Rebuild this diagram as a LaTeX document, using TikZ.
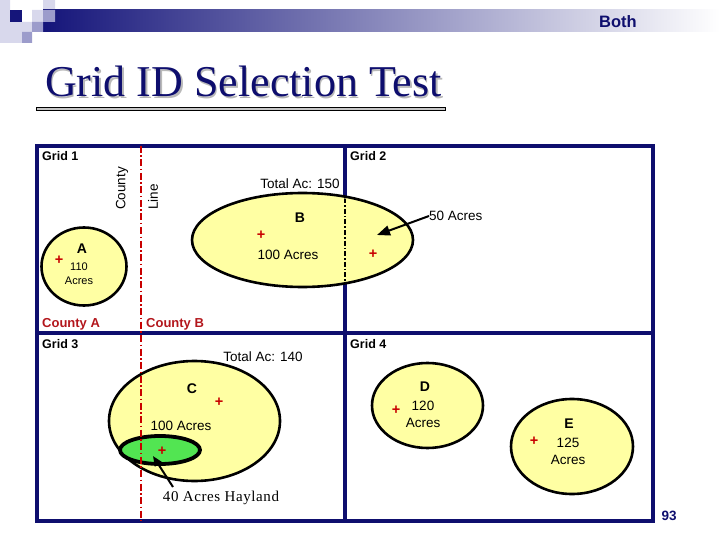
\documentclass[tikz,border=0pt]{standalone}
\usepackage{fontspec}
\setmainfont{Liberation Serif}
\setsansfont{Liberation Sans}
\usetikzlibrary{arrows.meta,shapes.geometric,positioning}
\definecolor{navy}{HTML}{0E0E6E}
\definecolor{cred}{HTML}{B3161C}
\definecolor{lred}{HTML}{C80000}
\definecolor{pyel}{HTML}{FFFFA3}
\definecolor{hgreen}{HTML}{52E552}
\definecolor{sqa}{HTML}{D8D8EC}
\definecolor{sqb}{HTML}{9C9CCB}
\definecolor{sqc}{HTML}{15157A}
\newcommand{\fsz}[1]{\fontsize{#1}{#1}\selectfont}
\tikzset{field/.style={ellipse,draw=black,fill=pyel,line width=2.6pt,inner sep=0pt},gridlbl/.style={anchor=west,inner sep=0pt,font=\sffamily\bfseries\fsz{12.5}},cntylbl/.style={anchor=west,inner sep=0pt,text=cred,font=\sffamily\bfseries\fsz{13}},lbl/.style={font=\sffamily\fsz{13.5},inner sep=0pt},small/.style={font=\sffamily\fsz{11},inner sep=0pt},ltr/.style={font=\sffamily\bfseries\fsz{14},inner sep=0pt},plusmark/.style={text=lred,font=\sffamily\bfseries\fsz{14.5},inner sep=0pt},arr/.style={-{Triangle[length=13pt,width=10pt]},line width=2pt}}

\begin{document}
\begin{tikzpicture}[x=1pt,y=-1pt]
\useasboundingbox (0,0) rectangle (720,540);
% header
\fill[sqa] (0,0) rectangle (10,43) (10,22) rectangle (22,43) (22,22) rectangle (32,32) (32,10) rectangle (43,22) (43,0) rectangle (55,10);
\shade[left color=sqc,right color=white] (43,10) rectangle (720,32);
\fill[sqc] (10,10) rectangle (22,22);
\fill[sqb] (22,32) rectangle (32,43) (32,22) rectangle (43,32) (43,10) rectangle (55,22);
\node[text=navy,font=\sffamily\bfseries\fsz{16.5}] (both) at (618,22) {Both};
\node[anchor=base west,inner sep=0pt,text=gray!55,font=\fsz{44}] at (46.5,98.5) {Grid ID Selection Test};
\node[anchor=base west,inner sep=0pt,text=navy,font=\fsz{44}] (title) at (45,97) {Grid ID Selection Test};
\filldraw[fill=gray!45,draw=black,line width=0.8pt] (36,107.5) rectangle (445,110.5);
% grids
\draw[navy,line width=3.5pt] (37,146) rectangle (653,521) (345,146) -- (345,521) (37,333) -- (653,333);
\node[gridlbl] (g1) at (42,156) {Grid 1};
\node[gridlbl] (g2) at (350,156) {Grid 2};
\node[gridlbl] (g3) at (42,344) {Grid 3};
\node[gridlbl] (g4) at (350,344) {Grid 4};
% fields
\node[field,minimum width=85pt,minimum height=78pt] (fa) at (84,266.5) {};
\node[field,minimum width=221pt,minimum height=94pt] (fb) at (302.5,240) {};
\begin{scope}
\clip (302.5,240) ellipse [x radius=108, y radius=45];
\draw[line width=1.5pt,dash pattern=on 5pt off 2pt on 1.5pt off 2pt] (345,146) -- (345,333);
\end{scope}
\node[field,minimum width=171pt,minimum height=120pt] (fc) at (194.5,421) {};
\node[field,fill=hgreen,line width=3.8pt,minimum width=80pt,minimum height=28pt] (hay) at (160,450) {};
\node[field,minimum width=111pt,minimum height=85pt] (fd) at (427.5,405.5) {};
\node[field,minimum width=122pt,minimum height=95pt] (fe) at (572,446.5) {};
% county line
\draw[lred,line width=2pt,dash pattern=on 7pt off 2.5pt on 1.5pt off 2.5pt] (141,146) -- (141,521);
\node[lbl,rotate=90,anchor=west] (cty) at (122,210) {County};
\node[lbl,rotate=90,anchor=west] (line) at (153,210) {Line};
\node[cntylbl] (ca) at (42,324) {County A};
\node[cntylbl] (cb) at (146,324) {County B};
% field A
\node[ltr] (la) at (82,249) {A};
\node[plusmark] (pa) at (59,260) {+};
\node[small] (aa) at (79,267) {110};
\node[small] (ab) at (79,281) {Acres};
% field B
\node[lbl] (tb) at (300,184) {Total Ac: 150};
\node[ltr] (lb) at (300,218) {B};
\node[plusmark] (pb) at (261,235) {+};
\node[lbl] (ba) at (288,255) {100 Acres};
\node[plusmark] (pb2) at (373,254) {+};
\node[lbl,anchor=west] (fifty) at (429,216) {50 Acres};
\coordinate (fiftyhd) at (377,235);
\draw[arr] (fifty.west) -- (fiftyhd);
% field C
\node[lbl] (tc) at (263,357) {Total Ac: 140};
\node[ltr] (lc) at (192,389) {C};
\node[plusmark] (pc) at (219,402) {+};
\node[lbl] (ca2) at (181,426) {100 Acres};
\node[plusmark] (ph) at (162,451) {+};
\node[font=\fsz{15}\addfontfeatures{LetterSpace=4},inner sep=0pt] (hayl) at (221,498) {40 Acres Hayland};
\coordinate (haytl) at (173,487);
\coordinate (hayhd) at (153,456);
\draw[-{Triangle[length=10pt,width=8pt]},line width=2pt] (haytl) -- (hayhd);
% field D
\node[ltr] (ld) at (425,387) {D};
\node[plusmark] (pd) at (396,410) {+};
\node[lbl] (da) at (423,406) {120};
\node[lbl] (db) at (423,423) {Acres};
% field E
\node[ltr] (le) at (569,424) {E};
\node[plusmark] (pe) at (534,441) {+};
\node[lbl] (ea) at (568,443) {125};
\node[lbl] (eb) at (568,460) {Acres};
\node[text=navy,font=\sffamily\bfseries\fsz{13.5}] (pg) at (669,516) {93};
\end{tikzpicture}
\end{document}
